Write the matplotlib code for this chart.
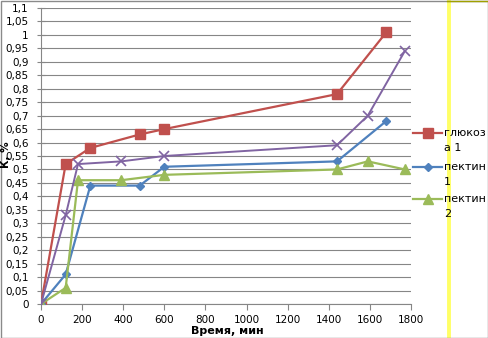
import matplotlib
matplotlib.use('Agg')
import matplotlib.pyplot as plt
from matplotlib.lines import Line2D
from matplotlib.patches import Rectangle

# время отбора проб, мин
t_a = [0, 120, 240, 480, 600, 1440, 1680]
t_b = [0, 120, 180, 390, 600, 1440, 1590, 1770]

glucose1 = [0, 0.52, 0.58, 0.63, 0.65, 0.78, 1.01]
pectin1 = [0, 0.11, 0.44, 0.44, 0.51, 0.53, 0.68]
pectin2 = [0, 0.06, 0.46, 0.46, 0.48, 0.50, 0.53, 0.50]
series4 = [0, 0.33, 0.52, 0.53, 0.55, 0.59, 0.70, 0.94]

yticks = [i * 0.05 for i in range(23)]
xticks = list(range(0, 1801, 200))

red = '#C0504D'
blue = '#4F81BD'
green = '#9BBB59'
purple = '#8064A2'

W, H = 488, 338
fig = plt.figure(figsize=(W / 100, H / 100), dpi=100)
ax = fig.add_axes([41 / W, 1 - 304 / H, 370 / W, 296 / H])

ax.plot(t_a, glucose1, color=red, lw=1.6, marker='s', ms=7, zorder=3)
ax.plot(t_a, pectin1, color=blue, lw=1.6, marker='D', ms=4.5, zorder=4)
ax.plot(t_b, pectin2, color=green, lw=1.6, marker='^', ms=6.5, zorder=5)
ax.plot(t_b, series4, color=purple, lw=1.4, marker='x', ms=6.5, mew=1.2, zorder=6)

ax.set_xlim(0, 1800)
ax.set_ylim(0, 1.1)
ax.set_xticks(xticks)
ax.set_xticklabels([str(x) for x in xticks], fontsize=7.5)
ax.set_yticks(yticks)
ax.set_yticklabels([('%g' % round(v, 2)).replace('.', ',') for v in yticks], fontsize=7.5)
ax.yaxis.grid(True, color='#868686', lw=0.8)
ax.set_axisbelow(True)
for s in ['top', 'right']:
    ax.spines[s].set_visible(False)
ax.spines['left'].set_color('#868686')
ax.spines['bottom'].set_color('#868686')
ax.tick_params(axis='x', direction='out', length=4, color='#868686', pad=4)
ax.tick_params(axis='y', direction='inout', length=6, color='#868686', pad=6)

fig.text(227 / W, 1 - 331 / H, 'Время, мин', fontsize=8, fontweight='bold',
         ha='center', va='center')
fig.text(6 / W, 1 - 155 / H, 'К, %', fontsize=7.5, fontweight='bold',
         rotation=90, ha='center', va='center')

# жёлтая полоса и рамка
fig.add_artist(Line2D([449 / W, 449 / W], [0, 1], color='#FFFF66', lw=2.8,
                      transform=fig.transFigure, zorder=0))
fig.add_artist(Rectangle((0.5 / W, 0.5 / H), (W - 1) / W, (H - 1) / H, fill=False,
                         edgecolor='#8A8A8A', lw=1, transform=fig.transFigure))
fig.add_artist(Line2D([447 / W, 1], [1 - 0.5 / H, 1 - 0.5 / H], color='#A0A000',
                      lw=1, transform=fig.transFigure))

# легенда
entries = [(red, 's', 7, 'глюкоз', 'а 1', 133),
           (blue, 'D', 4.5, 'пектин', '1', 167),
           (green, '^', 6.5, 'пектин', '2', 199)]
for col, mk, ms, l1, l2, yy in entries:
    y = 1 - yy / H
    fig.add_artist(Line2D([413 / W, 428 / W, 442 / W], [y, y, y], color=col, lw=1.6,
                          marker=mk, ms=ms, markevery=[1], transform=fig.transFigure))
    fig.text(444 / W, y, l1, fontsize=8, va='center', ha='left')
    fig.text(444 / W, y - 15 / H, l2, fontsize=8, va='center', ha='left')

fig.savefig('out.png', dpi=100)
